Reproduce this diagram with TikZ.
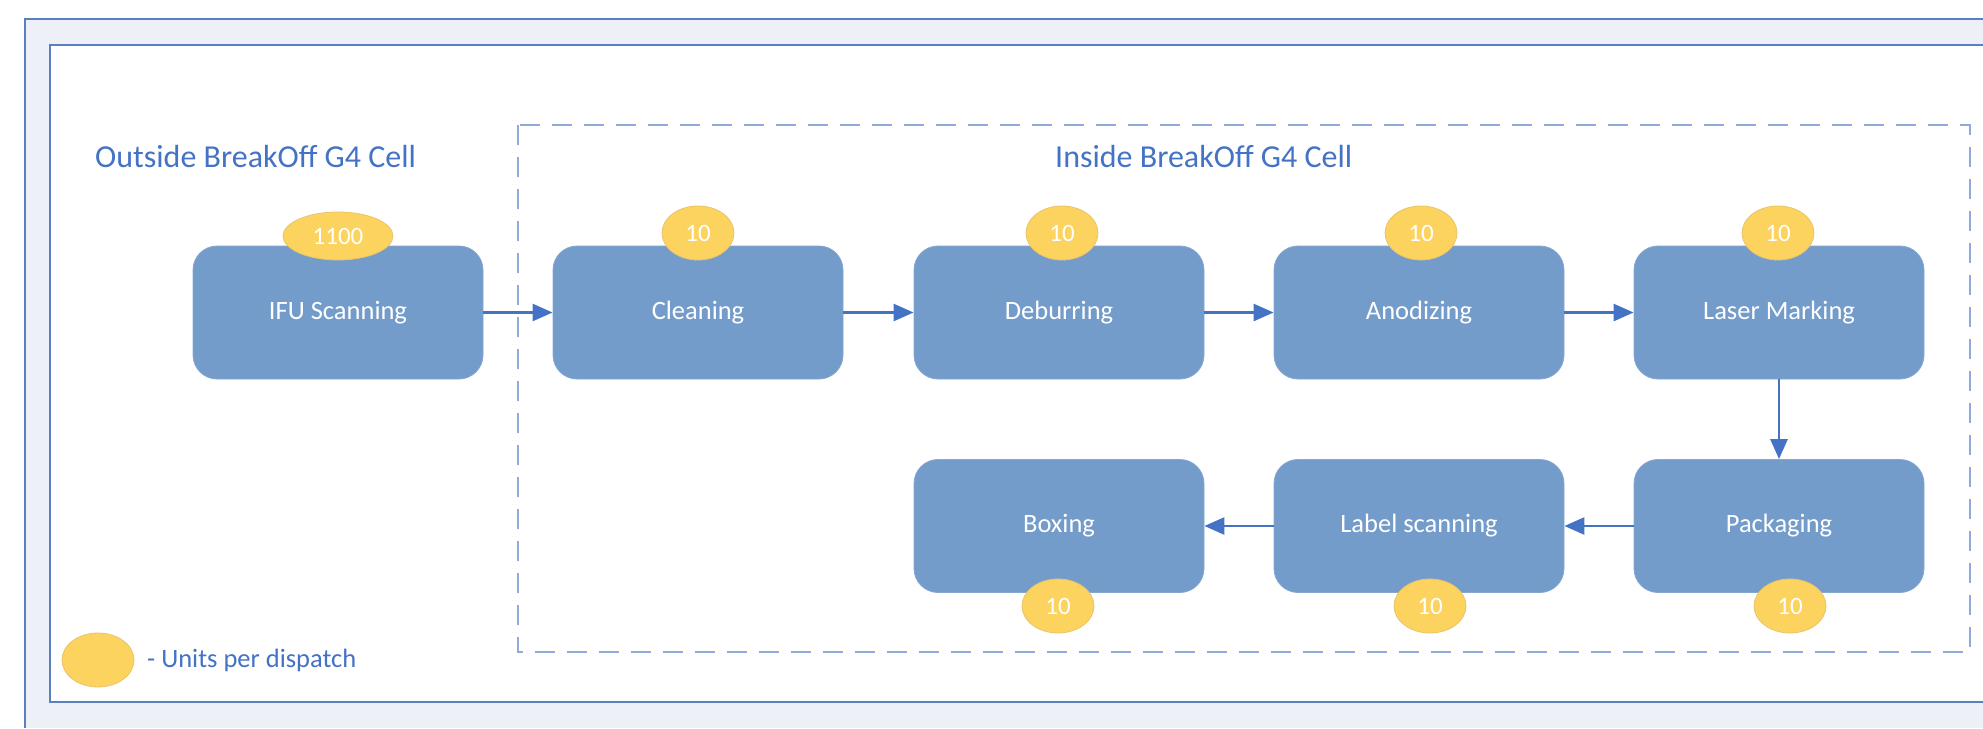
\documentclass[tikz,border=0pt]{standalone}
\usepackage{fontspec}
\setmainfont{Carlito}
\usetikzlibrary{arrows.meta,shapes.geometric}
\definecolor{titleblue}{HTML}{4472C4}
\definecolor{arrowblue}{HTML}{4472C4}
\definecolor{framecol}{HTML}{5A7FC3}
\definecolor{dashcol}{HTML}{92A9DC}
\definecolor{boxfill}{HTML}{739CCB}
\definecolor{boxline}{HTML}{84A8D2}
\definecolor{dotfill}{HTML}{FCD35F}
\definecolor{dotline}{HTML}{EAC36A}
\definecolor{bgcol}{HTML}{EEF0F7}
\tikzset{
  stepbox/.style={rectangle, rounded corners=24pt, minimum width=290pt, minimum height=133pt,
    fill=boxfill, draw=boxline, line width=0.8pt, text=white, inner sep=0pt,
    font=\fontsize{26.5}{30}\selectfont},
  units/.style={ellipse, minimum width=72pt, minimum height=54pt, inner sep=0pt,
    fill=dotfill, draw=dotline, line width=0.8pt, text=white,
    font=\fontsize{25}{28}\selectfont},
  flow/.style={draw=arrowblue, line width=2.6pt, -{Triangle[length=20pt,width=17pt]}},
  frameline/.style={draw=framecol, line width=2.2pt},
  title/.style={text=titleblue, inner sep=0pt, font=\fontsize{32}{36}\selectfont},
}
\begin{document}
\begin{tikzpicture}[x=1pt,y=-1pt]
\useasboundingbox (0,0) rectangle (1983,728);
\fill[white] (0,0) rectangle (1983,728);
\fill[bgcol] (25,19) rectangle (1983,728);
% frames
\draw[frameline] (1983,19) -- (25,19) -- (25,728);
\fill[white] (50,45) rectangle (1983,702);
\draw[frameline] (1983,45) -- (50,45) -- (50,702) -- (1983,702);
% dashed region
\draw[dashcol, line width=1.6pt, dash pattern=on 20pt off 12pt] (518,125) rectangle (1970,652);
% titles
\node[title, anchor=base west] (outT) at (95,167) {Outside BreakOff G4 Cell};
\node[title, anchor=base west] (inT) at (1055,167) {Inside BreakOff G4 Cell};
% boxes
\node[stepbox] (ifu) at (338,312.5) {IFU Scanning};
\node[stepbox] (clean) at (698,312.5) {Cleaning};
\node[stepbox] (deburr) at (1059,312.5) {Deburring};
\node[stepbox] (anod) at (1419,312.5) {Anodizing};
\node[stepbox] (laser) at (1779,312.5) {Laser Marking};
\node[stepbox] (box) at (1059,526) {Boxing};
\node[stepbox] (label) at (1419,526) {Label scanning};
\node[stepbox] (pack) at (1779,526) {Packaging};
% arrows
\draw[flow] (ifu.east) -- (clean.west);
\draw[flow] (clean.east) -- (deburr.west);
\draw[flow] (deburr.east) -- (anod.west);
\draw[flow] (anod.east) -- (laser.west);
\draw[flow] (laser.south) -- (pack.north);
\draw[flow] (pack.west) -- (label.east);
\draw[flow] (label.west) -- (box.east);
% units per dispatch
\node[units, minimum width=110pt, minimum height=48pt] (u1) at (338,236) {1100};
\node[units] (u2) at (698,233) {10};
\node[units] (u3) at (1062,233) {10};
\node[units] (u4) at (1421,233) {10};
\node[units] (u5) at (1778,233) {10};
\node[units] (u6) at (1058,606) {10};
\node[units] (u7) at (1430,606) {10};
\node[units] (u8) at (1790,606) {10};
% legend
\node[units] (leg) at (98,660) {};
\node[title, anchor=west, font=\fontsize{26.5}{30}\selectfont] (legT) at (147,660) {- Units per dispatch};
\end{tikzpicture}
\end{document}
